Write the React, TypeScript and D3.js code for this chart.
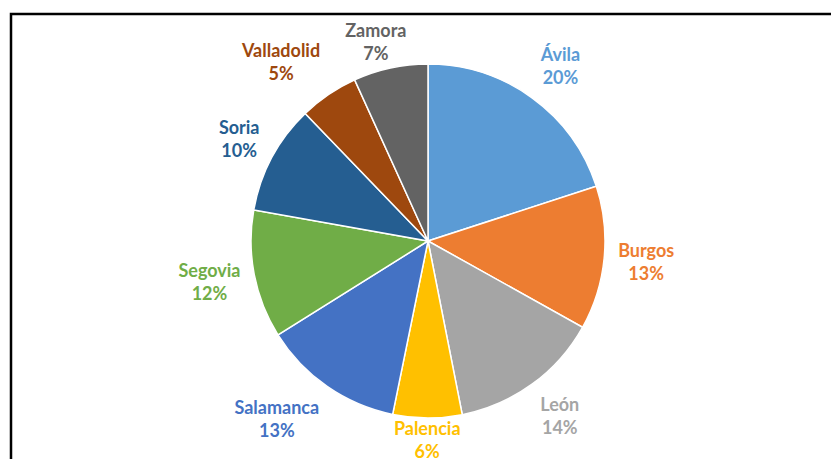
import React, { useEffect, useRef } from 'react';
import * as d3 from 'd3';

const provincias = ['Ávila', 'Burgos', 'León', 'Palencia', 'Salamanca', 'Segovia', 'Soria', 'Valladolid', 'Zamora'];
const valores = [20.0, 13.1, 13.8, 6.3, 12.9, 11.7, 10.0, 5.4, 6.8];
const colores = ['#5B9BD5', '#ED7D31', '#A5A5A5', '#FFC000', '#4472C4', '#70AD47', '#255E91', '#9E480E', '#636363'];

const App = () => {
    const ref = useRef<SVGSVGElement>(null);

    useEffect(() => {
        const cx = 428;
        const cy = 241;
        const radius = 177;

        const svg = d3.select(ref.current);
        svg.selectAll('*').remove();

        // marco del gráfico
        svg.append('rect')
            .attr('x', 11).attr('y', 14)
            .attr('width', 840).attr('height', 500)
            .attr('fill', 'none')
            .attr('stroke', '#000')
            .attr('stroke-width', 2.5);

        const data = provincias.map((name, i) => ({ name, value: valores[i], color: colores[i] }));
        const total = d3.sum(valores);

        const pie = d3.pie<any>().value(d => d.value).sort(null);
        const arc = d3.arc<any>().innerRadius(0).outerRadius(radius);
        const arcs = pie(data);

        const g = svg.append('g').attr('transform', `translate(${cx},${cy})`);

        g.selectAll('path')
            .data(arcs)
            .join('path')
            .attr('d', arc)
            .attr('fill', d => d.data.color)
            .attr('stroke', '#fff')
            .attr('stroke-width', 1.5);

        // etiquetas fuera del pastel
        const labels = g.selectAll('g.label')
            .data(arcs)
            .join('g')
            .attr('class', 'label')
            .style('font-family', 'Lato, "Open Sans", sans-serif')
            .style('font-weight', 700)
            .style('font-size', '18px')
            .attr('fill', d => d.data.color)
            .attr('text-anchor', 'middle');

        labels.append('text').attr('y', -5).text(d => d.data.name);
        labels.append('text').attr('y', 18).text(d => `${Math.round(d.data.value / total * 100)}%`);

        const clamp = (v: number) => Math.max(-1, Math.min(1, v));

        labels.each(function (d) {
            const box = (this as SVGGElement).getBBox();
            const hw = box.width / 2;
            const hh = 23;
            const a = (d.startAngle + d.endAngle) / 2;
            const s = Math.sin(a);
            const c = Math.cos(a);
            const r = radius + 14;
            // la caja de la etiqueta toca el punto a r sobre el ángulo medio
            const x = s * r + hw * clamp(s * 1.8);
            let y = -c * r - hh * clamp(c * 1.1);
            // se mantiene dentro del área del gráfico
            y = Math.max(42 - cy, Math.min(440 - cy, y));
            d3.select(this).attr('transform', `translate(${x},${y})`);
        });
    }, []);

    return (
        <div style={{ position: 'fixed', left: 0, top: 0 }}>
            <svg ref={ref} width={831} height={459} style={{ display: 'block', background: '#fff' }} />
        </div>
    );
};

export default App;
